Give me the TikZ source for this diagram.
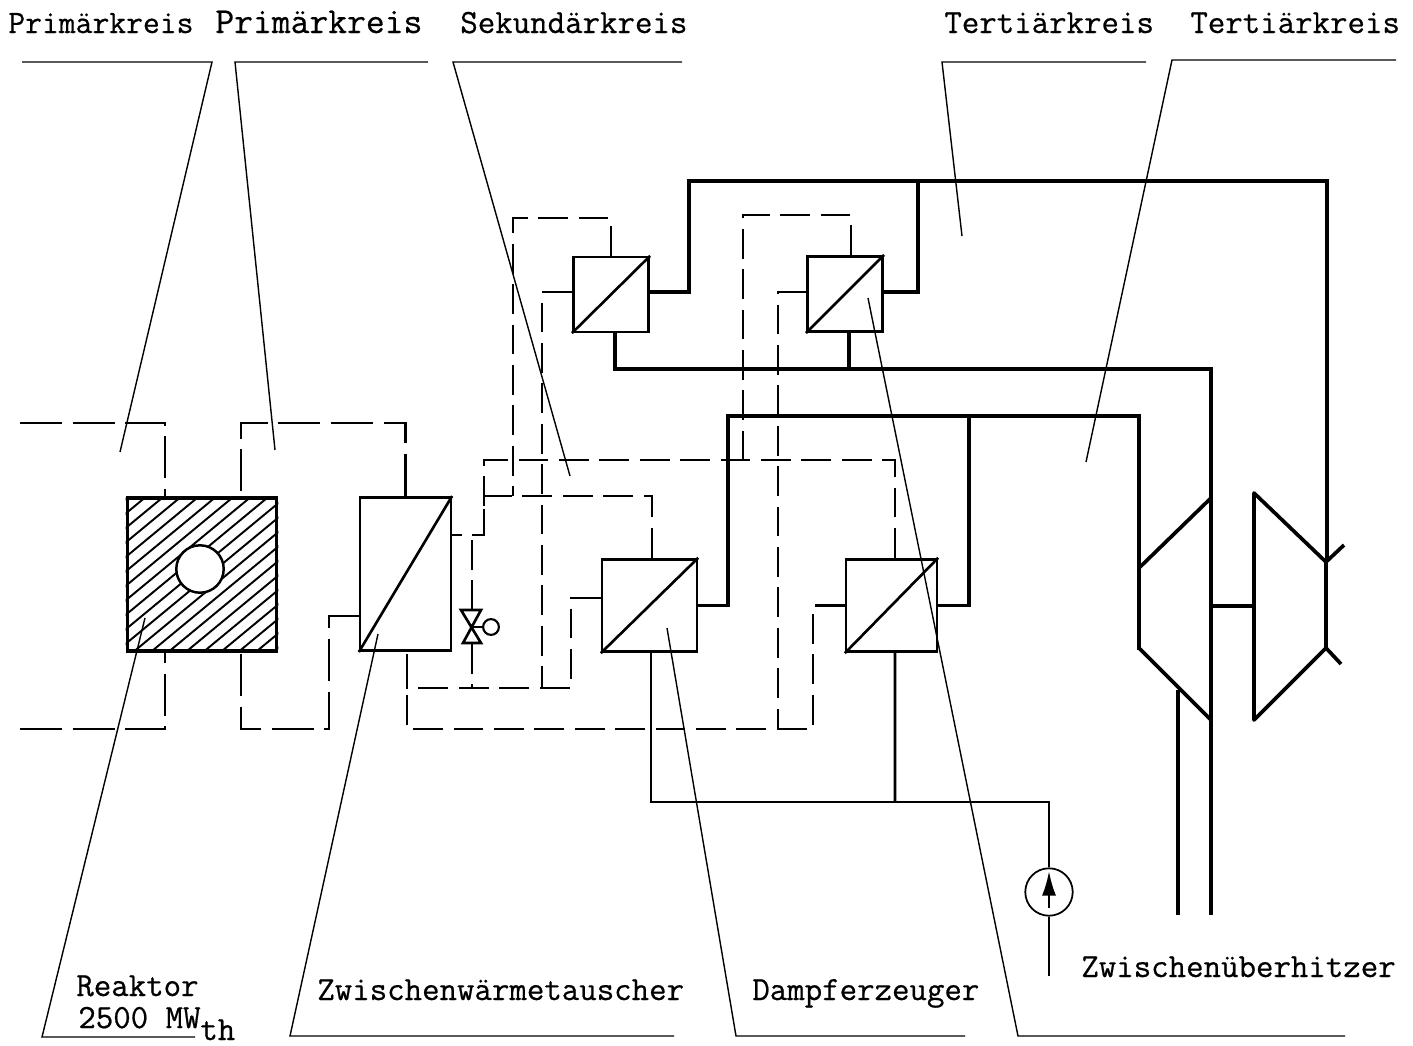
\documentclass[tikz,border=0pt]{standalone}
\usepackage{tikz}
\usepackage{fontspec}
\usetikzlibrary{arrows.meta}
\newfontfamily\typewr[FakeBold=0.6]{Latin Modern Mono}
\tikzset{
  hx/.style={draw,line width=1.5pt,inner sep=0pt,rectangle},
  lab/.style={font=\fontsize{19.3}{21}\selectfont\typewr,inner sep=0pt,anchor=base west},
  leader/.style={line width=0.8pt},
  prim/.style={line width=1.4pt,dash pattern=on 24pt off 6pt},
  sec/.style={line width=1.5pt,dash pattern=on 17pt off 6pt},
  feed/.style={line width=1.6pt},
  tert/.style={line width=2.1pt},
}
\begin{document}
\begin{tikzpicture}[x=0.02cm,y=-0.02cm]
  \useasboundingbox (0,0) rectangle (1413,1045);
  % reactor with hatching
  \node[hx,line width=2pt,minimum width=85pt,minimum height=87pt] (reak) at (202,574.5){};
  \begin{scope}
    \clip (reak.south west) rectangle (reak.north east);
    \foreach \i in {0,...,20}{\draw[line width=1.1pt] (127+17.5*\i-185,651)--(127+17.5*\i,498);}
  \end{scope}
  \node[circle,draw,fill=white,line width=1.4pt,minimum size=27pt,inner sep=0pt] (kern) at (200,569){};

  % exchangers
  \node[hx,minimum width=51.6pt,minimum height=87.3pt] (zwt) at (405.5,574){};
  \node[hx,minimum width=53.9pt,minimum height=52.7pt] (dea) at (649.5,605.5){};
  \node[hx,minimum width=51.6pt,minimum height=52.7pt] (deb) at (891.5,605.5){};
  \node[hx,minimum width=43pt,minimum height=42.5pt] (uea) at (611,294.5){};
  \node[hx,minimum width=43pt,minimum height=43pt] (ueb) at (845,294){};
  \foreach \n in {zwt,dea,deb,uea,ueb}{\draw[line width=1.5pt] (\n.south west)--(\n.north east);}

  % primary loops
  \coordinate (pa) at (20,423); \coordinate (pb) at (20,729);
  \draw[prim] (pa) -| (reak.north-|165,498);
  \draw[prim] (pb) -| (reak.south-|165,651);
  \draw[prim] (zwt.north) |- (241,423) -- (241,498);
  \draw[prim] (zwt.west|-329,616) -| (329,729) -| (241,651);

  % secondary loops
  \coordinate (knick) at (484,535);
  \draw[sec] ([xshift=2pt]deb.north) |- (484,460) -- (knick) -- (zwt.east|-knick);
  \draw[sec] ([xshift=1.4pt]dea.north) |- (484,496) -- (knick);
  \draw[sec] (472,610) -- (472,535);
  \draw[sec] (472,644) -- (472,689);
  \draw[sec] ([yshift=4.25pt]dea.west) -| (571,688) -- (407,688) -- (407,651);
  \draw[sec] (deb.west) -| (813,729) -- (407,729) -- (407,651);
  \draw[sec] ([yshift=1.4pt]uea.west) -| (542,688);
  \draw[sec] (uea.north) |- (513,218) -- (513,496);
  \draw[sec] ([xshift=3.4pt]ueb.north) |- (743,215) -- (743,460);
  \draw[sec] ([yshift=1.1pt]ueb.west) -| (778,729);

  % bypass valve
  \draw[line width=1.5pt] (461,610)--(481,610)--(463,643)--(481,643)--cycle;
  \coordinate (vm) at (472,627);
  \node[circle,draw,line width=1.2pt,minimum size=9pt,inner sep=0pt] (antr) at (491,627){};
  \draw[line width=1.2pt] (vm) -- (antr);

  % tertiary, thick
  \draw[tert] ([yshift=1.4pt]uea.east) -| (689,181) -- (1327,181) -- (1327,562);
  \draw[tert] ([yshift=1.1pt]ueb.east) -| (918,181);
  \draw[tert] (dea.east) -| (728,416) -- (1139,416) -- (1139,650);
  \draw[tert] (deb.east) -| (969,416);
  \draw[tert] ([xshift=2.3pt]uea.south) |- (1211,369) -- (1211,718);
  \draw[tert] ([xshift=2.3pt]ueb.south) -- ++(0,37);
  % turbines
  \draw[tert] (1139,568)--(1211,498);
  \draw[tert] (1139,648)--(1211,720);
  \node[inner sep=0pt] (hd) at (1211,606){};
  \node[inner sep=0pt] (nd) at (1254,606){};
  \draw[tert] (hd)--(nd);
  \draw[tert,line join=round] (1326,562)--(1254,493)--(1254,720)--(1326,648)--(1326,562);
  \draw[tert] (1326,562)--(1344,545);
  \draw[tert] (1326,648)--(1341,664);
  \draw[tert] (1178,690)--(1178,915);
  \draw[tert] (1211,718)--(1211,915);

  % feed water
  \node[circle,draw,line width=1pt,minimum size=27pt,inner sep=0pt] (pump) at (1049,892){};
  \draw[feed] ([xshift=0.9pt]dea.south) |- (1049,802) -- (pump.north);
  \draw[feed] ([xshift=2pt]deb.south) -- (895,802);
  \coordinate (zul) at (1049,976);
  \draw[feed] (pump.south) -- (zul);
  \coordinate (pfa) at (1049,908); \coordinate (pfb) at (1049,871);
  \draw[-{Latex[length=14pt,width=8pt]},line width=1.4pt] (pfa) -- (pfb);

  % leaders
  \draw[leader] (22,62)--(212,62)--(120,452);
  \draw[leader] (428,62)--(235,62)--(275,450);
  \draw[leader] (682,62)--(453,62)--(570,476);
  \draw[leader] (1146,62)--(942,62)--(962,236);
  \draw[leader] (1396,60)--(1172,60)--(1086,462);
  \draw[leader] (145,618)--(42,1037)--(195,1037);
  \draw[leader] (378,634)--(290,1036)--(674,1036);
  \draw[leader] (667,628)--(736,1036)--(965,1036);
  \draw[leader] (868,298)--(1018,1036)--(1345,1036);

  % labels
  \node[lab,font=\fontsize{18.6}{21}\selectfont\typewr] (t1) at (8,33){Primärkreis};
  \node[lab,font=\fontsize{20.8}{21}\selectfont\typewr] (t2) at (215,33){Primärkreis};
  \node[lab] (t3) at (460,33){Sekundärkreis};
  \node[lab] (t4) at (944,33){Tertiärkreis};
  \node[lab] (t5) at (1190,33){Tertiärkreis};
  \node[lab] (t6) at (76,996){Reaktor};
  \node[lab] (t7) at (78,1028){2500 MW};
  \node[lab] (t8) at (200,1040){th};
  \node[lab] (t9) at (317,1000){Zwischenwärmetauscher};
  \node[lab] (t10) at (752,1000){Dampferzeuger};
  \node[lab] (t11) at (1081,977){Zwischenüberhitzer};
\end{tikzpicture}
\end{document}
